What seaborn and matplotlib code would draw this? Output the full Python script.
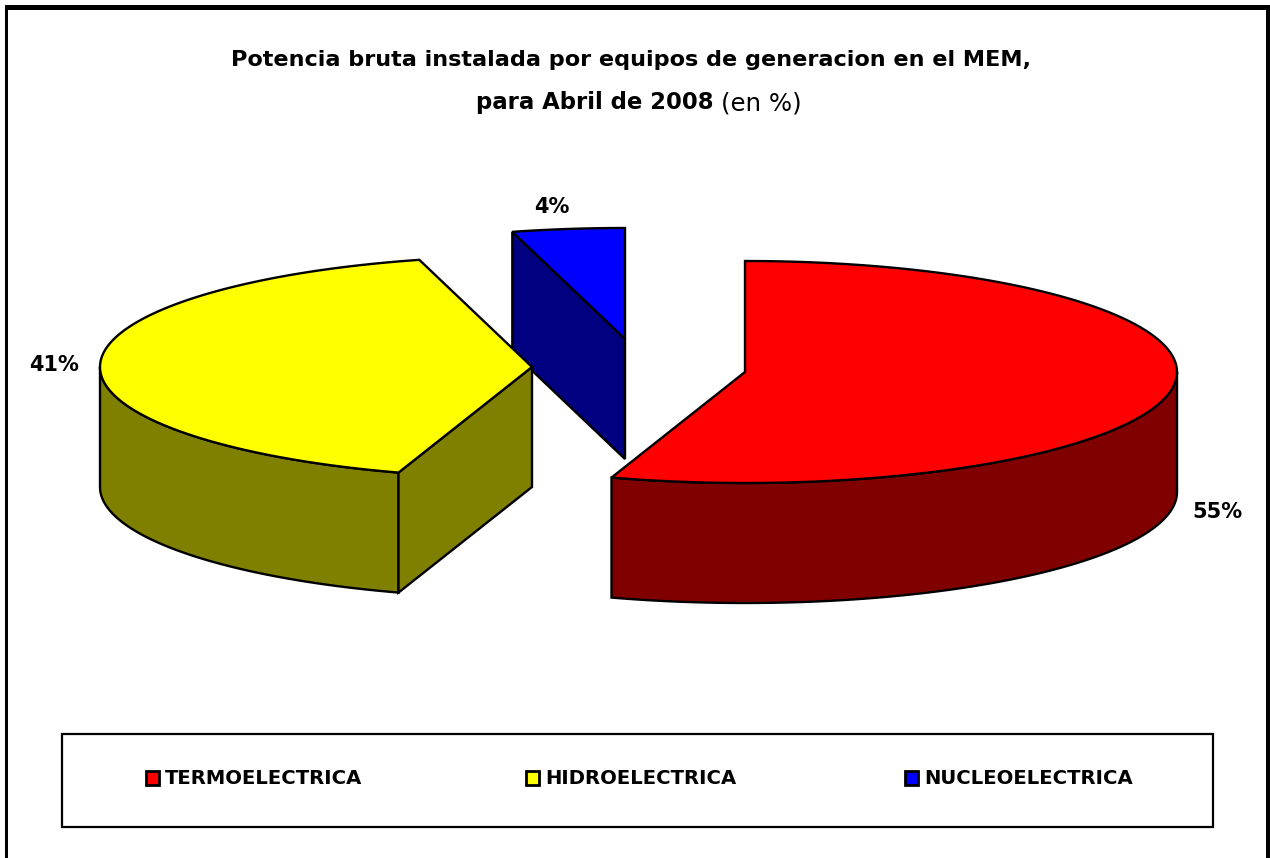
import numpy as np
import matplotlib
matplotlib.use("Agg")
import matplotlib.pyplot as plt
from matplotlib.patches import Polygon, Rectangle
import seaborn as sns

# values (slice angles, labels show them rounded)
categories = ["TERMOELECTRICA", "HIDROELECTRICA", "NUCLEOELECTRICA"]
shares = [55.0, 40.8, 4.2]
top_colors = ["#ff0000", "#ffff00", "#0000ff"]
side_colors = ["#800000", "#808000", "#000080"]

sns.set_theme(style="white")
plt.rcParams["font.family"] = ["DejaVu Sans"]

# pixel layout of the exploded pie
RX, RY, DEPTH = 432, 111, 120
centers = [(745, 372), (532, 367), (625, 339)]
label_pos = [(1217, 512), (54, 365), (552, 207)]
legend_x = [146, 526, 905]
LW = 1.7

fig = plt.figure(figsize=(12.7, 8.58), dpi=100)
ax = fig.add_axes([0, 0, 1, 1])
ax.set_xlim(0, 1270)
ax.set_ylim(858, 0)
ax.axis("off")


def rim(c, a0, a1, n=200):
    # points on the top ellipse, angle clockwise from 12 o'clock
    t = np.radians(np.linspace(a0, a1, n))
    return np.column_stack([c[0] + RX * np.sin(t), c[1] - RY * np.cos(t)])


def add_poly(pts, color, z):
    ax.add_patch(Polygon(pts, closed=True, facecolor=color, edgecolor="black",
                         linewidth=LW, joinstyle="miter", zorder=z))


def drop(pts):
    return pts + np.array([0, DEPTH])


edges = np.concatenate([[0], np.cumsum(shares)]) * 360 / sum(shares)

# outer frame, cut by the bottom edge of the image
for x, y, w, h in [(5, 5, 3, 853), (5, 5, 1265, 5), (1266, 5, 4, 853)]:
    ax.add_patch(Rectangle((x, y), w, h, facecolor="black", edgecolor="none", zorder=1))

for i, (a0, a1) in enumerate(zip(edges[:-1], edges[1:])):
    c = np.array(centers[i], dtype=float)
    top = np.vstack([[c], rim(c, a0, a1)])
    z = 5 - i  # nuclear slice sits behind the yellow one
    if i == 0:
        # outer wall of the front part
        arc = rim(c, 90, a1)
        add_poly(np.vstack([arc, drop(arc)[::-1]]), side_colors[i], z)
    elif i == 1:
        arc = rim(c, a0, 270)
        add_poly(np.vstack([arc, drop(arc)[::-1]]), side_colors[i], z)
        # cut face towards the centre
        face = np.array([c, rim(c, a0, a0, 1)[0]])
        add_poly(np.vstack([face, drop(face)[::-1]]), side_colors[i], z)
    else:
        face = np.array([rim(c, a0, a0, 1)[0], c])
        add_poly(np.vstack([face, drop(face)[::-1]]), side_colors[i], z)
    add_poly(top, top_colors[i], z)
    ax.text(label_pos[i][0], label_pos[i][1], f"{shares[i]:.0f}%", fontsize=15, fontweight="bold",
            ha="center", va="center", color="black", zorder=10)

# title
ax.text(631, 60, "Potencia bruta instalada por equipos de generacion en el MEM,",
        fontsize=16.15, fontweight="bold", ha="center", va="center", color="black")
ax.text(713, 103, "para Abril de 2008", fontsize=16.4, fontweight="bold", ha="right", va="center", color="black")
ax.text(721, 103, "(en %)", fontsize=17.6, ha="left", va="center", color="black")

# legend box
ax.add_patch(Rectangle((62, 734), 1151, 93, facecolor="white", edgecolor="black", linewidth=1.6, zorder=2))
for x, name, color in zip(legend_x, categories, top_colors):
    ax.add_patch(Rectangle((x, 771), 13, 14, facecolor=color, edgecolor="black", linewidth=2.0, zorder=3))
    ax.text(x + 19, 779, name, fontsize=14.15, fontweight="bold", ha="left", va="center", color="black", zorder=3)

fig.savefig("out.png", dpi=100, facecolor="white")
